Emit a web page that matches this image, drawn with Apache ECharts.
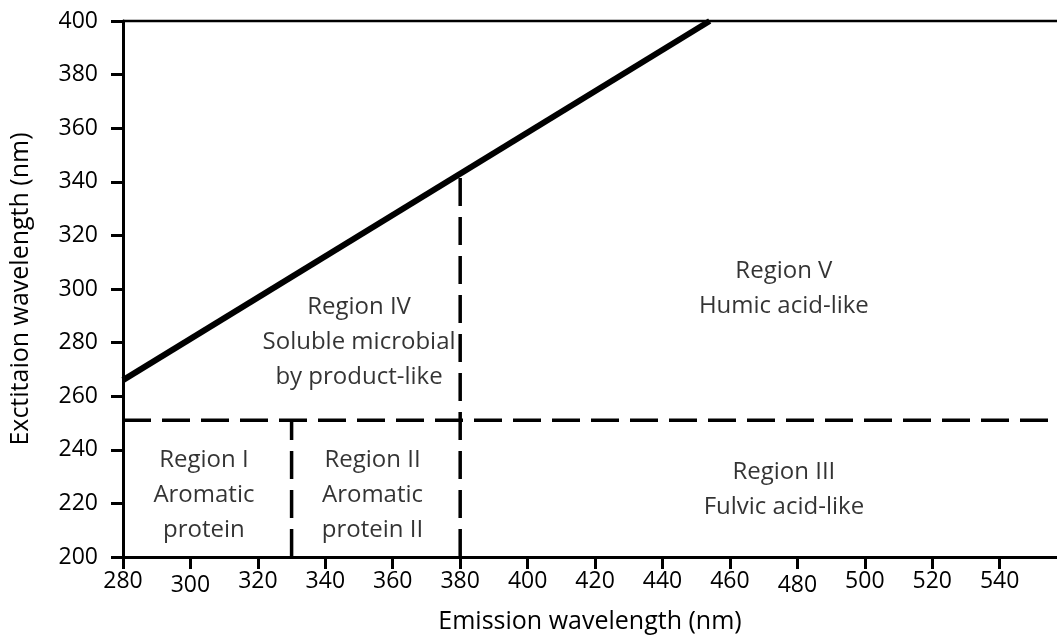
<!DOCTYPE html>
<html>
<head>
<meta charset="utf-8">
<script src="https://cdn.jsdelivr.net/npm/echarts@6/dist/echarts.min.js"></script>
<style>
  html, body { margin: 0; padding: 0; background: #fff; }
  #chart { width: 1057px; height: 639px; }
</style>
</head>
<body>
<div id="chart"></div>
<script>
// Axis ranges and ticks (nm)
const xRange = [280, 557];
const yRange = [200, 400];
const xTickStep = 20;
const yTickStep = 20;
// tick labels drawn slightly lower on the emission axis
const xLoweredTicks = [300, 480];

// Region boundaries (emission, excitation)
const diagonalLine = [[280, 266], [454, 400]];
const excitationSplit = [[280, 251], [557, 251]];
const splitAt330 = [[330, 200], [330, 251]];
const splitAt380 = [[380, 200], [380, 343]];
const topEdge = [[280, 400], [557, 400]];

// Region label anchors and texts
const regionX = [304, 354, 350, 476, 476];
const regionY = [223, 223, 280, 300, 225];
const regionText = [
  'Region I\nAromatic\nprotein',
  'Region II\nAromatic\nprotein II',
  'Region IV\nSoluble microbial\nby product-like',
  'Region V\nHumic acid-like',
  'Region III\nFulvic acid-like'
];

const FONT = '"Open Sans", "Noto Sans", sans-serif';
const TEXT = '#000';
const chart = echarts.init(document.getElementById('chart'));

function lineSeries(data, width, dashed) {
  return {
    type: 'line',
    data: data,
    symbol: 'none',
    clip: false,
    silent: true,
    lineStyle: { color: '#000', width: width, type: dashed ? [28, 11] : 'solid', cap: 'butt' },
    z: 3
  };
}

chart.setOption({
  animation: false,
  backgroundColor: '#fff',
  grid: { left: 123, right: 0, top: 21, bottom: 81, containLabel: false },
  xAxis: {
    type: 'value',
    min: xRange[0], max: xRange[1], interval: xTickStep,
    name: 'Emission wavelength (nm)',
    nameLocation: 'middle', nameGap: 52,
    nameTextStyle: { fontFamily: FONT, fontSize: 25, color: TEXT },
    axisLine: { lineStyle: { color: '#000', width: 3 } },
    axisTick: { length: 12, lineStyle: { color: '#000', width: 3 } },
    splitLine: { show: false },
    axisLabel: {
      margin: 13, fontFamily: FONT, fontSize: 23, color: TEXT,
      showMaxLabel: false,
      formatter: v => (xLoweredTicks.indexOf(v) >= 0 ? '{low|' + v + '}' : String(v)),
      rich: { low: { fontFamily: FONT, fontSize: 23, color: TEXT, padding: [4, 0, 0, 0] } }
    }
  },
  yAxis: {
    type: 'value',
    min: yRange[0], max: yRange[1], interval: yTickStep,
    name: 'Exctitaion wavelength (nm)',
    nameLocation: 'middle', nameGap: 90,
    nameTextStyle: { fontFamily: FONT, fontSize: 25, color: TEXT },
    axisLine: { lineStyle: { color: '#000', width: 3 } },
    axisTick: { length: 12, lineStyle: { color: '#000', width: 3 } },
    splitLine: { show: false },
    axisLabel: { margin: 25, fontFamily: FONT, fontSize: 23, color: TEXT }
  },
  series: [
    lineSeries(topEdge, 2.5, false),
    lineSeries(diagonalLine, 6, false),
    lineSeries(excitationSplit, 3.5, true),
    lineSeries(splitAt330, 3.5, true),
    lineSeries(splitAt380, 3.5, true),
    {
      type: 'scatter',
      symbolSize: 0,
      silent: true,
      data: regionX.map((x, i) => [x, regionY[i], regionText[i]]),
      label: {
        show: true,
        position: 'inside',
        formatter: p => p.data[2],
        fontFamily: FONT, fontSize: 24, lineHeight: 35, color: TEXT, align: 'center'
      },
      z: 4
    }
  ]
});
</script>
</body>
</html>
